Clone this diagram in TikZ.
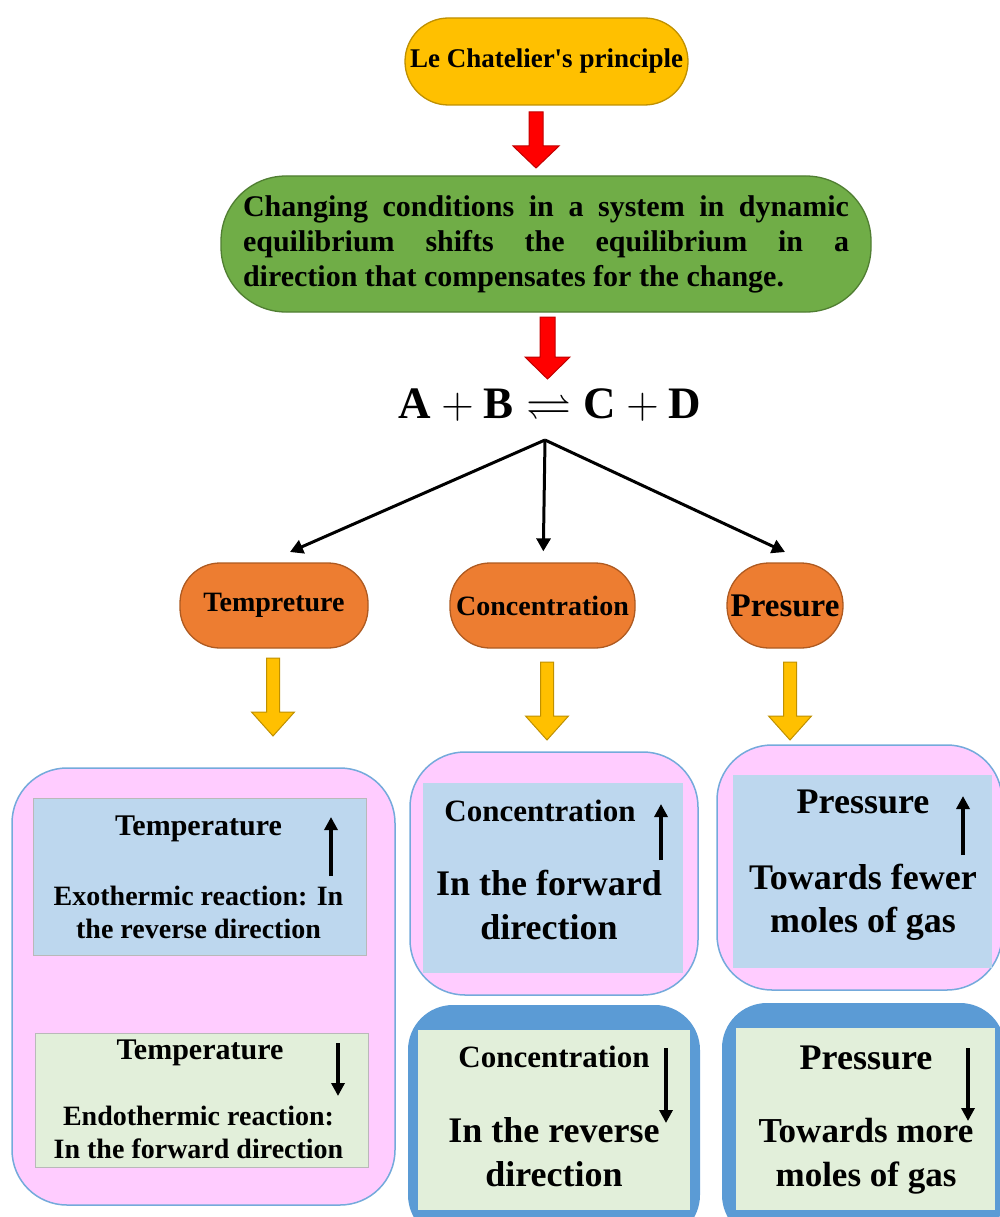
\RequirePackage{fix-cm}
\documentclass[tikz,border=0pt]{standalone}
\usepackage{amssymb}
\usepackage{fontspec}
\setmainfont{Liberation Serif}
\usetikzlibrary{arrows.meta}

\definecolor{lcpGold}{HTML}{FFC000}
\definecolor{lcpGoldEdge}{HTML}{BF9000}
\definecolor{lcpGreen}{HTML}{70AD47}
\definecolor{lcpGreenEdge}{HTML}{507E32}
\definecolor{lcpOrange}{HTML}{ED7D31}
\definecolor{lcpOrangeEdge}{HTML}{AE5A21}
\definecolor{lcpPink}{HTML}{FFCCFF}
\definecolor{lcpSky}{HTML}{BDD7EE}
\definecolor{lcpMint}{HTML}{E2EFDA}
\definecolor{lcpBlue}{HTML}{5B9BD5}
\definecolor{lcpRed}{HTML}{FF0000}
\definecolor{lcpRedEdge}{HTML}{C00000}

\newcommand{\fs}[2]{\fontsize{#1}{#2}\selectfont\bfseries}
% fill, edge, x, top, head, tip, shaft half, head half
\newcommand{\blockdown}[8]{%
  \draw[draw=#2, fill=#1, line width=1pt, line join=miter]
    (#3-#7,#4) -- (#3+#7,#4) -- (#3+#7,#5) -- (#3+#8,#5) -- (#3,#6)
    -- (#3-#8,#5) -- (#3-#7,#5) -- cycle;}

\begin{document}
\begin{tikzpicture}[x=1pt,y=-1pt,
    every node/.style={inner sep=0pt},
    pill/.style={line width=1.3pt},
    panel/.style={fill=lcpPink, draw=lcpBlue!85, line width=1.5pt, rounded corners=55pt},
    card/.style={draw=gray!55, line width=.6pt},
    frame/.style={fill=lcpBlue, rounded corners=45pt},
    txt/.style={anchor=north, align=center},
    feed/.style={-{Triangle[length=13pt,width=14pt]}, line width=3pt},
    trend/.style={-{Triangle[length=13pt,width=13pt]}, line width=4pt}]
    \clip (0,0) rectangle (1000,1217);

    % top of the chart
    \node[pill, draw=lcpGoldEdge, fill=lcpGold, minimum width=283pt, minimum height=87pt,
      rounded corners=43.5pt, font=\fs{27}{30}] (lcp) at (546.5,61.5)
      {Le Chatelier\textquotesingle s principle};
    \node[pill, draw=lcpGreenEdge, fill=lcpGreen, minimum width=650pt, minimum height=136pt,
      rounded corners=65pt, text width=606pt, align=justify, font=\fs{30}{35}] (rule) at (546,244)
      {Changing conditions in a system in dynamic\linebreak equilibrium shifts the equilibrium in a\linebreak direction that compensates for the change.};
    \blockdown{lcpRed}{lcpRedEdge}{536}{112}{146}{168}{7}{23}
    \blockdown{lcpRed}{lcpRedEdge}{547.5}{317}{357}{379}{7.5}{22.5}

    % equilibrium and the three factors
    \node[font=\fontsize{45}{50}\selectfont] (eqn) at (550,405)
      {$\mathbf{A+B\rightleftharpoons C+D}$};
    \node[pill, draw=lcpOrangeEdge, fill=lcpOrange, minimum width=188pt, minimum height=85pt,
      rounded corners=40pt, font=\fs{28}{30}] (temp) at (274,605.5) {Tempreture};
    \node[pill, draw=lcpOrangeEdge, fill=lcpOrange, minimum width=185pt, minimum height=85pt,
      rounded corners=40pt, font=\fs{28}{30}] (conc) at (542.5,605.5) {Concentration};
    \node[pill, draw=lcpOrangeEdge, fill=lcpOrange, minimum width=116pt, minimum height=85pt,
      rounded corners=42pt, font=\fs{33}{36}] (pres) at (785,605.5) {Presure};
    \coordinate (fork) at (545,440);
    \coordinate (toTemp) at (290,552);
    \coordinate (toPres) at (785,552);
    \draw[feed] (fork) -- (toTemp);
    \draw[feed, shorten >=11pt] (fork) -- (conc);
    \draw[feed] (fork) -- (toPres);
    \blockdown{lcpGold}{lcpGoldEdge}{273}{658}{712}{736}{6.5}{21.5}
    \blockdown{lcpGold}{lcpGoldEdge}{547}{662}{716}{740}{6.5}{21.5}
    \blockdown{lcpGold}{lcpGoldEdge}{790}{662}{716}{740}{6.5}{21.5}

    % temperature
    \node[panel, minimum width=383pt, minimum height=437pt] (tPanel) at (203.5,986.5) {};
    \node[card, fill=lcpSky, minimum width=333pt, minimum height=157pt] (tHotCard) at (199.5,876.5) {};
    \node[card, fill=lcpMint, minimum width=333pt, minimum height=134pt] (tColdCard) at (201.5,1100) {};
    \node[txt, font=\fs{30}{33}] (tHot) at (198.5,816) {Temperature};
    \node[txt, font=\fs{28}{33}] (tExo) at (198.5,886) {Exothermic reaction: In\\the reverse direction};
    \node[txt, font=\fs{30}{33}] (tCold) at (200,1040) {Temperature};
    \node[txt, font=\fs{28}{33}] (tEndo) at (198.5,1106) {Endothermic reaction:\\In the forward direction};
    \draw[trend] (331,876) -- (331,817);
    \draw[trend] (338,1043) -- (338,1096);

    % concentration
    \node[panel, minimum width=288pt, minimum height=243pt] (cPanel) at (554,873.5) {};
    \node[card, fill=lcpSky, draw=none, minimum width=260pt, minimum height=190pt] (cUpCard) at (553,878) {};
    \node[frame, minimum width=292pt, minimum height=235pt] (cFrame) at (554,1122.5) {};
    \node[fill=lcpMint, minimum width=272pt, minimum height=180pt] (cDownCard) at (554,1120) {};
    \node[txt, font=\fs{31}{44}] (cUp) at (540,800) {Concentration};
    \node[txt, font=\fs{36}{44}] (cFwd) at (549,870) {In the forward\\direction};
    \node[txt, font=\fs{31}{44}] (cDown) at (554,1046) {Concentration};
    \node[txt, font=\fs{36}{44}] (cRev) at (554,1117) {In the reverse\\direction};
    \draw[trend] (661,860) -- (661,804);
    \draw[trend] (666,1048) -- (666,1123);

    % pressure
    \node[panel, minimum width=285pt, minimum height=245pt] (pPanel) at (859.5,867.5) {};
    \node[card, fill=lcpSky, draw=none, minimum width=259pt, minimum height=193pt] (pUpCard) at (862.5,871.5) {};
    \node[frame, minimum width=283pt, minimum height=237pt] (pFrame) at (863.5,1121.5) {};
    \node[fill=lcpMint, minimum width=259pt, minimum height=182pt] (pDownCard) at (865.5,1119) {};
    \node[txt, font=\fs{36}{43}] (pUp) at (863,790) {Pressure};
    \node[txt, font=\fs{36}{43}] (pFew) at (863,864) {Towards fewer\\moles of gas};
    \node[txt, font=\fs{36}{44}] (pDown) at (866,1046) {Pressure};
    \node[txt, font=\fs{35}{44}] (pMore) at (866,1118) {Towards more\\moles of gas};
    \draw[trend] (963,855) -- (963,796);
    \draw[trend] (968,1048) -- (968,1121);
\end{tikzpicture}
\end{document}
